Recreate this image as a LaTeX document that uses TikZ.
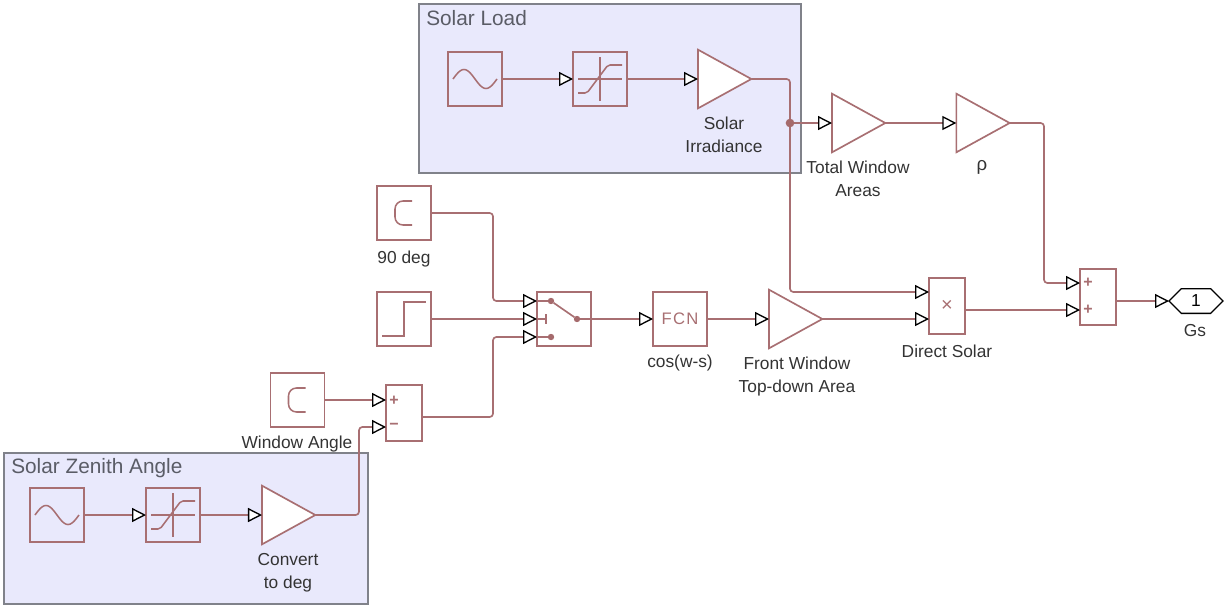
\documentclass[tikz,border=0pt]{standalone}
\usepackage{fontspec}
\setmainfont{Liberation Sans}
\usepackage{tikz}
\usetikzlibrary{arrows.meta,positioning,shapes.geometric,shapes.symbols,calc}
\definecolor{blockred}{HTML}{A86F72}
\definecolor{dotred}{HTML}{A56A6C}
\definecolor{areafill}{HTML}{E9E9FC}
\definecolor{areadraw}{HTML}{80828A}
\definecolor{labelgrey}{HTML}{333333}
\definecolor{titlegrey}{HTML}{5A5C66}
\newcommand{\sinewave}[1]{\draw[icon,shift={(#1)}] plot[domain=-22:22,samples=41,smooth] (\x,{9.5*sin(\x*360/44)});}
\newcommand{\satcurve}[1]{
\draw[icon] ($(#1)+(-22,0)$) -- ($(#1)+(22,0)$);
\draw[icon] ($(#1)+(0,-22)$) -- ($(#1)+(0,22)$);
\draw[icon,rounded corners=1.5pt] ($(#1)+(-22,14)$) -- ($(#1)+(-13,14)$) -- ($(#1)+(8,-14)$) -- ($(#1)+(22,-14)$);}
\newcommand{\constc}[1]{\draw[icon,rounded corners=6pt] ($(#1)+(8,-12)$) -- ($(#1)+(-9,-12)$) -- ($(#1)+(-9,12)$) -- ($(#1)+(8,12)$);}
\begin{document}
\begin{tikzpicture}[
x=.75pt,y=-.75pt,
block/.style={draw=blockred,line width=1.25pt,minimum width=40.5pt,minimum height=40.5pt,inner sep=0pt,outer sep=0pt},
opblock/.style={block,minimum width=27pt,minimum height=42pt},
gain/.style={isosceles triangle,isosceles triangle stretches,draw=blockred,fill=white,line width=1.25pt,
minimum width=44pt,minimum height=40pt,inner sep=0pt,outer sep=0pt},
area/.style={draw=areadraw,fill=areafill,line width=1.1pt,inner sep=0pt,outer sep=0pt},
title/.style={font=\fontsize{15.6}{18}\selectfont,text=titlegrey,inner sep=0pt,anchor=west},
lbl/.style={font=\fontsize{13}{17.25}\selectfont,text=labelgrey,align=center,inner sep=0pt},
sgn/.style={font=\fontsize{12}{12}\selectfont\bfseries,text=blockred,inner sep=0pt},
sig/.style={draw=blockred,line width=1.25pt,rounded corners=2.5pt,
-{Triangle[length=10.5pt,width=10.5pt,color=black,fill=white,line width=1pt]}},
wire/.style={draw=blockred,line width=1.25pt},
icon/.style={draw=blockred,line width=1.15pt},
dot/.style={circle,fill=dotred,minimum size=4.8pt,inner sep=0pt,outer sep=0pt}
]
\useasboundingbox (0,0) rectangle (1225,607);
% areas
\node[area,minimum width=286.5pt,minimum height=126.75pt] (loadarea) at (610,88.5) {};
\node[area,minimum width=273pt,minimum height=113.25pt] (zenitharea) at (186,528.5) {};
\node[title] (loadtitle) at (426,18) {Solar Load};
\node[title] (zenithtitle) at (11,468) {Solar Zenith Angle};

% solar load row
\node[block] (sineload) at (475,79) {};
\node[block,right=53.25pt of sineload] (satload) {};
\node[gain,right=53.25pt of satload] (irrad) {};
\node[gain,anchor=west] (total) at (832,123) {};
\node[gain,right=53.25pt of total] (rho) {};
\node[lbl] (irradlbl) at (724,134.5) {Solar\\Irradiance};
\node[lbl] (totallbl) at (858,179) {Total Window\\Areas};
\node[lbl,font=\fontsize{14}{16}\selectfont] (rholbl) at (982,167) {ρ};

% middle row
\node[block] (con90) at (404,213) {};
\node[lbl] (con90lbl) at (404,259) {90 deg};
\node[block] (stepin) at (404,319) {};
\node[block,right=79.5pt of stepin] (switch) {};
\node[block,right=46.5pt of switch] (fcn) {\fontsize{12.5}{14}\selectfont\color{blockred}F\kern1pt C\kern1pt N};
\node[gain,right=46.5pt of fcn] (front) {};
\node[lbl] (fcnlbl) at (680,363) {cos(w-s)};
\node[lbl] (frontlbl) at (797,377) {Front Window\\Top-down Area};
\node[opblock] (prod) at (947,306) {};
\node[sgn,font=\fontsize{15}{15}\selectfont] (prodsgn) at (947,306) {×};
\node[lbl] (prodlbl) at (947,351) {Direct Solar};
\node[opblock] (sumout) at (1098,297) {};
\node[sgn] (sumplusa) at (1088,283) {+};
\node[sgn] (sumplusb) at (1088,310) {+};
\node[signal,signal to=east and west,draw=black,fill=white,line width=1pt,
minimum width=40.5pt,minimum height=18.5pt,inner sep=0pt,outer sep=0pt,
font=\fontsize{13}{15}\selectfont] (gs) at (1196,301) {1};
\node[lbl] (gslbl) at (1195,331) {Gs};

% window angle
\node[block] (conwin) at (297.5,400) {};
\node[lbl] (conwinlbl) at (297,444) {Window Angle};
\node[opblock] (sumwin) at (404,413) {};
\node[sgn] (sumplus) at (394,401) {+};
\node[sgn] (summinus) at (394,426) {−};

% solar zenith row
\node[block] (sinezen) at (57,515) {};
\node[block,right=46.5pt of sinezen] (satzen) {};
\node[gain,right=46.5pt of satzen] (convert) {};
\node[lbl] (convertlbl) at (288,573) {Convert\\to deg};

% icons
\sinewave{sineload}
\sinewave{sinezen}
\satcurve{satload}
\satcurve{satzen}
\constc{con90}
\constc{conwin}
\draw[icon] ($(stepin)+(-22,17)$) -- ($(stepin)+(0,17)$) -- ($(stepin)+(0,-17)$) -- ($(stepin)+(22,-17)$);

% switch inside
\node[dot] (swa) at ($(switch)+(-13,-18)$) {};
\node[dot] (swc) at ($(switch)+(-13,18)$) {};
\node[dot] (swo) at ($(switch)+(13,0)$) {};
\draw[wire] (swa) -- (swo);
\draw[wire] (swo) -- (switch.east);
\draw[wire] (switch.west) -- ($(switch)+(-18,0)$);
\draw[wire] ($(switch)+(-18,-5)$) -- ($(switch)+(-18,5)$);
\draw[wire] ($(switch.west)+(0,18)$) -- (swc);
\draw[wire] ($(switch.west)+(0,-18)$) -- (swa);

% ports
\coordinate (swin1) at ($(switch.west)+(0,-18)$);
\coordinate (swin3) at ($(switch.west)+(0,18)$);
\coordinate (prodin1) at ($(prod.west)+(0,-14)$);
\coordinate (prodin2) at ($(prod.west)+(0,13)$);
\coordinate (prodout) at ($(prod.east)+(0,4)$);
\coordinate (sumin1) at ($(sumout.west)+(0,-14)$);
\coordinate (sumin2) at ($(sumout.west)+(0,13)$);
\coordinate (sumoutp) at ($(sumout.east)+(0,4)$);
\coordinate (winin1) at ($(sumwin.west)+(0,-13)$);
\coordinate (winin2) at ($(sumwin.west)+(0,14)$);
\coordinate (winout) at ($(sumwin.east)+(0,4)$);
\coordinate (busload) at (790,123);
\coordinate (busrho) at (1044,123);
\coordinate (busin) at (493,319);
\coordinate (buszen) at (359,515);

% connectors
\foreach \a/\b in {sineload/satload,satload/irrad,stepin/switch,switch/fcn,fcn/front,sinezen/satzen,satzen/convert,total/rho}
\draw[sig] (\a) -- (\b);
\draw[sig] (conwin) -- (winin1);
\draw[sig] (prodout) -- (sumin2);
\draw[sig] (front.east) -- (prodin2);
\draw[sig] (sumoutp) -- (gs.west);
\draw[sig] (irrad.apex) -- (busload |- irrad.apex) -- (busload |- prodin1) -- (prodin1);
\draw[sig] (busload) -- (total);
\draw[sig] (rho.apex) -- (busrho) -- (busrho |- sumin1) -- (sumin1);
\draw[sig] (con90) -- (busin |- con90) -- (busin |- swin1) -- (swin1);
\draw[sig] (winout) -- (busin |- winout) -- (busin |- swin3) -- (swin3);
\draw[sig] (convert.apex) -- (buszen) -- (buszen |- winin2) -- (winin2);
\node[dot,minimum size=6.5pt] (busdot) at (busload) {};
\end{tikzpicture}
\end{document}
